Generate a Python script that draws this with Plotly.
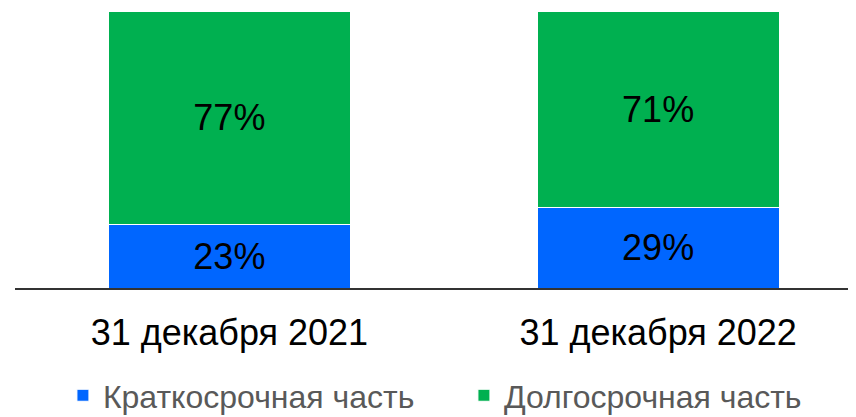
import plotly.graph_objects as go

categories = ["31 декабря 2021", "31 декабря 2022"]
short_term = [23, 29]
long_term = [77, 71]
series_names = ["Краткосрочная часть", "Долгосрочная часть"]
colors = ["#0066FF", "#00B050"]

fig = go.Figure()
for name, vals, col in zip(series_names, [short_term, long_term], colors):
    fig.add_trace(go.Bar(
        x=categories, y=vals, name=name,
        marker=dict(color=col, line=dict(color="white", width=1)),
        text=[f"{v}%" for v in vals],
        textposition="inside", insidetextanchor="middle",
        textfont=dict(family="Liberation Sans, Arial", size=36, color="black"),
        width=0.565,
    ))

# page body has an 8px margin, so the figure is 8px smaller than the window
fig.update_layout(
    barmode="stack",
    width=848, height=409,
    margin=dict(l=7, r=0, t=3, b=129, autoexpand=False),
    paper_bgcolor="white", plot_bgcolor="white",
    xaxis=dict(
        range=[-0.5, 1.4615], automargin=False,
        showline=True, linecolor="#333333", linewidth=2,
        tickfont=dict(family="Liberation Sans, Arial", size=36, color="black"),
        ticks="", showgrid=False, ticklabelstandoff=12,
    ),
    yaxis=dict(range=[0, 100], visible=False, showgrid=False, automargin=False),
    showlegend=True,
    legend=dict(
        orientation="h", x=0.057, xanchor="left", y=-0.388, yanchor="middle",
        font=dict(family="Liberation Sans, Arial", size=32, color="#595959"),
        traceorder="normal", entrywidth=356,
    ),
)
fig.write_html("out.html")
